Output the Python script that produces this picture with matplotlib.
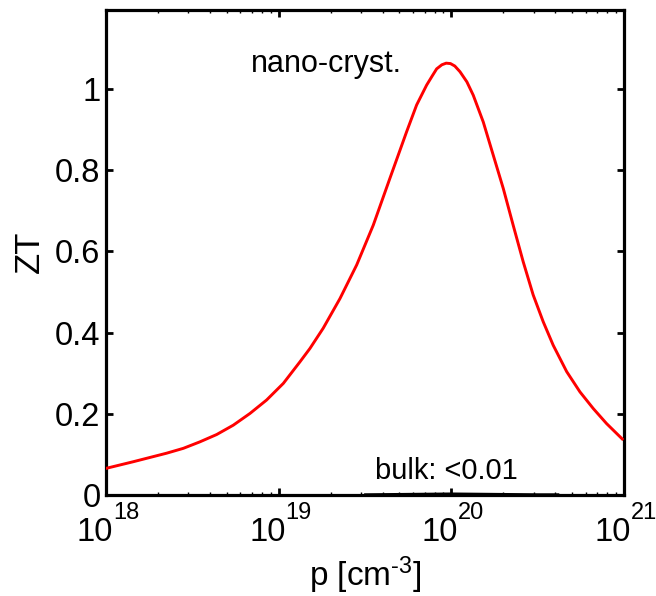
import numpy as np
import matplotlib
matplotlib.use("Agg")
import matplotlib.pyplot as plt

plt.rcParams['font.family'] = ['Liberation Sans', 'DejaVu Sans']
plt.rcParams['mathtext.fontset'] = 'custom'
plt.rcParams['mathtext.rm'] = 'Liberation Sans'
plt.rcParams['mathtext.it'] = 'Liberation Sans:italic'
plt.rcParams['mathtext.bf'] = 'Liberation Sans:bold'

# hole concentration (log10 of p in cm^-3) and figure of merit, nano-crystalline
log_p_nano = [18.004, 18.158, 18.351, 18.448, 18.544, 18.641, 18.737, 18.834,
              18.930, 19.027, 19.123, 19.181, 19.258, 19.355, 19.452, 19.548,
              19.644, 19.741, 19.799, 19.857, 19.890, 19.915, 19.945, 19.970,
              19.995, 20.020, 20.050, 20.090, 20.127, 20.185, 20.243, 20.301,
              20.358, 20.416, 20.474, 20.532, 20.590, 20.668, 20.745, 20.822,
              20.899, 20.990]
zt_nano = [0.066, 0.082, 0.103, 0.115, 0.131, 0.149, 0.172, 0.201,
           0.234, 0.275, 0.328, 0.361, 0.411, 0.484, 0.567, 0.665,
           0.780, 0.895, 0.961, 1.010, 1.033, 1.050, 1.060, 1.064,
           1.063, 1.057, 1.043, 1.018, 0.985, 0.919, 0.837, 0.755,
           0.665, 0.575, 0.493, 0.427, 0.369, 0.304, 0.254, 0.213,
           0.176, 0.138]

# bulk material: figure of merit stays below 0.01
log_p_bulk = [19.50, 19.75, 20.0, 20.25, 20.50, 20.62]
zt_bulk = [0.002, 0.003, 0.004, 0.003, 0.002, 0.002]

x_tick_exps = [18, 19, 20, 21]
y_ticks = [0, 0.2, 0.4, 0.6, 0.8, 1]
y_tick_labels = ['0', '0.2', '0.4', '0.6', '0.8', '1']

W, H = 656, 596
fig = plt.figure(figsize=(W / 100, H / 100), dpi=100)
ax = fig.add_axes([106 / W, 1 - 495 / H, 518 / W, 485 / H])

p_nano = 10.0 ** np.array(log_p_nano)
p_bulk = 10.0 ** np.array(log_p_bulk)
ax.plot(p_nano, zt_nano, color='#ff0000', lw=2.1, zorder=3)
ax.plot(p_bulk, zt_bulk, color='black', lw=1.3, zorder=3)

ax.set_xscale('log')
ax.set_xlim(1e18, 1e21)
ax.set_ylim(0, 1.195)
ax.set_xticks([10.0 ** e for e in x_tick_exps])
ax.set_xticklabels([])
ax.set_yticks(y_ticks)
ax.set_yticklabels(y_tick_labels)

for s in ax.spines.values():
    s.set_linewidth(2.3)
ax.tick_params(which='major', direction='in', length=5, width=2.0,
               top=True, right=True, labelsize=23.5, pad=4)
ax.tick_params(which='minor', direction='in', length=2.5, width=1.0,
               top=True, right=True)

# decade labels with a raised exponent
xt = ax.get_xaxis_transform()
for e in x_tick_exps:
    ax.annotate('10', xy=(10.0 ** e, 0), xycoords=xt, xytext=(7, -46),
                textcoords='offset pixels', ha='right', va='baseline',
                fontsize=23.5, annotation_clip=False)
    ax.annotate(str(e), xy=(10.0 ** e, 0), xycoords=xt, xytext=(7, -24),
                textcoords='offset pixels', ha='left', va='baseline',
                fontsize=17, annotation_clip=False)

fig.text(365 / W, 1 - 586 / H, 'p [cm$^{\\text{-3}}$]', fontsize=24,
         ha='center', va='baseline')
fig.text(29 / W, 1 - 252 / H, 'ZT', fontsize=25, rotation=90,
         ha='center', va='center')

ax.text(10 ** 19.277, 1.042, 'nano-cryst.', fontsize=22,
        ha='center', va='baseline')
ax.text(10 ** 19.97, 0.039, 'bulk: <0.01', fontsize=21,
        ha='center', va='baseline')

fig.savefig('out.png', dpi=100, facecolor='white')
